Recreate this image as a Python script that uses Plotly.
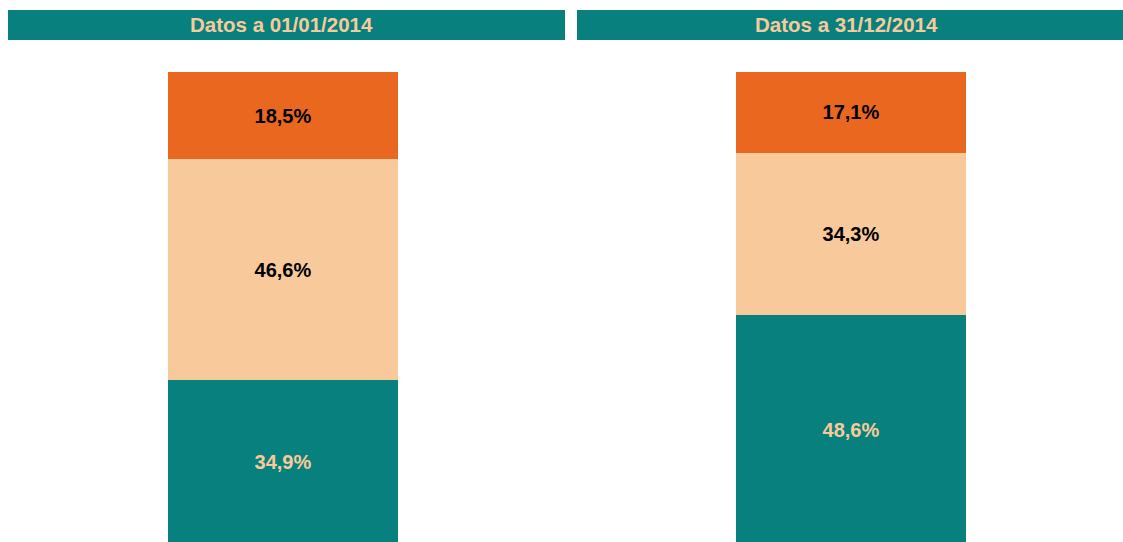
import plotly.graph_objects as go

# Data
panels = ["Datos a 01/01/2014", "Datos a 31/12/2014"]
categories = ["01/01/2014", "31/12/2014"]
series_names = ["Bajo", "Medio", "Alto"]
values_left = [34.9, 46.6, 18.5]
values_right = [48.6, 34.3, 17.1]
labels_left = ["34,9%", "46,6%", "18,5%"]
labels_right = ["48,6%", "34,3%", "17,1%"]

TEAL = "#08807D"
PEACH = "#F8CA9B"
ORANGE = "#E9671F"
colors = [TEAL, PEACH, ORANGE]
text_colors = [PEACH, "#000000", "#000000"]

W, H = 1123, 542
TOP = 72
FONT = "Liberation Sans, Arial, Helvetica, sans-serif"

fig = go.Figure()
for pi, (vals, labs) in enumerate([(values_left, labels_left), (values_right, labels_right)]):
    xa = "x" if pi == 0 else "x2"
    ya = "y" if pi == 0 else "y2"
    for si in range(3):
        fig.add_trace(go.Bar(
            x=[categories[pi]], y=[vals[si]], name=series_names[si],
            marker=dict(color=colors[si], line=dict(width=0)),
            width=1,
            text=["<b>" + labs[si] + "</b>"], textposition="inside", insidetextanchor="middle",
            textfont=dict(family=FONT, size=20, color=text_colors[si]),
            textangle=0,
            hoverinfo="skip", showlegend=False,
            xaxis=xa, yaxis=ya,
        ))

# Pixel layout of the two panels
lx0, lx1 = 8, 565
rx0, rx1 = 577, 1123
bar_px = 230.0
lc, rc = 283.0, 851.0

fig.update_layout(
    width=W, height=H,
    margin=dict(l=0, r=0, t=TOP, b=0),
    barmode="stack",
    plot_bgcolor="white", paper_bgcolor="white",
    xaxis=dict(domain=[lx0 / W, lx1 / W], type="category",
               range=[-(lc - lx0) / bar_px, (lx1 - lc) / bar_px],
               visible=False, fixedrange=True),
    xaxis2=dict(domain=[rx0 / W, rx1 / W], type="category",
                range=[-(rc - rx0) / bar_px, (rx1 - rc) / bar_px],
                visible=False, fixedrange=True),
    yaxis=dict(range=[0.6, 100], visible=False, anchor="x", fixedrange=True),
    yaxis2=dict(range=[0.6, 100], visible=False, anchor="x2", fixedrange=True),
)

plot_h = H - TOP
def py(pix):
    return 1 + (TOP - pix) / plot_h

shapes = []
annotations = []
for (x0, x1), tx, title in [((lx0, lx1), 281, panels[0]), ((rx0, rx1), 846, panels[1])]:
    shapes.append(dict(type="rect", xref="paper", yref="paper",
                       x0=x0 / W, x1=x1 / W, y0=py(40), y1=py(10),
                       fillcolor=TEAL, line=dict(width=0), layer="above"))
    annotations.append(dict(text="<b>" + title + "</b>", xref="paper", yref="paper",
                            x=tx / W, y=py(25), xanchor="center", yanchor="middle",
                            showarrow=False,
                            font=dict(family=FONT, size=20.5, color=PEACH)))
fig.update_layout(shapes=shapes, annotations=annotations)

fig.write_html("out.html", config={"displayModeBar": False},
               post_script="document.body.style.margin='0';")
